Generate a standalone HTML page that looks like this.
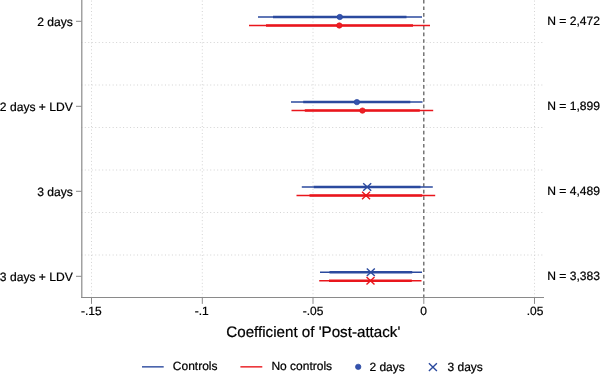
<!DOCTYPE html>
<html>
<head>
<meta charset="utf-8">
<title>Coefficient plot</title>
<style>
html,body{margin:0;padding:0;background:#fff;}
body{width:600px;height:375px;overflow:hidden;font-family:"Liberation Sans",sans-serif;}
svg{display:block;will-change:transform;}
text{font-family:"Liberation Sans",sans-serif;fill:#000;stroke:#000;stroke-width:0.22px;text-rendering:geometricPrecision;}
.t12{font-size:12px;}
.t15{font-size:15.16px;}
.grid{stroke:#d3d3d3;stroke-width:1;stroke-dasharray:1 2.485;fill:none;}
.axis{stroke:#8a8a8a;stroke-width:1.2;fill:none;}
.tick{stroke:#8a8a8a;stroke-width:1;fill:none;}
.b{stroke:#2b4a9e;fill:none;}
.r{stroke:#e9161c;fill:none;}
.thin{stroke-width:1.4;}
.thick{stroke-width:2.45;}
</style>
</head>
<body>
<svg width="600" height="375" viewBox="0 0 600 375">
<rect x="0" y="0" width="600" height="375" fill="#ffffff"/>

<!-- grid: horizontal -->
<g class="grid">
<line x1="81.3" y1="42.5" x2="543.5" y2="42.5"/>
<line x1="81.3" y1="85" x2="543.5" y2="85"/>
<line x1="81.3" y1="127.5" x2="543.5" y2="127.5"/>
<line x1="81.3" y1="170" x2="543.5" y2="170"/>
<line x1="81.3" y1="212.5" x2="543.5" y2="212.5"/>
<line x1="81.3" y1="255" x2="543.5" y2="255"/>
<!-- grid: vertical -->
<line x1="91.5" y1="-2.93" x2="91.5" y2="297"/>
<line x1="202.3" y1="-2.93" x2="202.3" y2="297"/>
<line x1="313" y1="-2.93" x2="313" y2="297"/>
<line x1="534.5" y1="-2.93" x2="534.5" y2="297"/>
</g>

<!-- zero reference line -->
<line x1="423.8" y1="0" x2="423.8" y2="297" stroke="#606060" stroke-width="1.3" stroke-dasharray="3.7 2.846" stroke-dashoffset="0.13"/>

<!-- axes -->
<line class="axis" x1="81.8" y1="0" x2="81.8" y2="298"/>
<line class="axis" style="stroke-width:1.1" x1="81.2" y1="297.45" x2="544" y2="297.45"/>

<!-- y ticks -->
<g class="tick">
<line x1="76" y1="21.3" x2="81.5" y2="21.3"/>
<line x1="76" y1="106.3" x2="81.5" y2="106.3"/>
<line x1="76" y1="191.3" x2="81.5" y2="191.3"/>
<line x1="76" y1="276.3" x2="81.5" y2="276.3"/>
<!-- x ticks -->
<line x1="91.5" y1="297.8" x2="91.5" y2="303.9"/>
<line x1="202.3" y1="297.8" x2="202.3" y2="303.9"/>
<line x1="313" y1="297.8" x2="313" y2="303.9"/>
<line x1="423.8" y1="297.8" x2="423.8" y2="303.9"/>
<line x1="534.5" y1="297.8" x2="534.5" y2="303.9"/>
</g>

<!-- y labels -->
<g class="t12" style="font-size:12.1px" text-anchor="end">
<text x="72.8" y="25.5">2 days</text>
<text x="72.8" y="110.5">2 days + LDV</text>
<text x="72.8" y="195.5">3 days</text>
<text x="72.8" y="280.5">3 days + LDV</text>
</g>

<!-- x labels -->
<g class="t12" text-anchor="middle">
<text x="91.3" y="315.15">-.15</text>
<text x="201.7" y="315.15">-.1</text>
<text x="313" y="315.15">-.05</text>
<text x="423.7" y="315.15">0</text>
<text x="535" y="315.15">.05</text>
</g>

<!-- axis title -->
<text class="t15" x="226.3" y="336.6">Coefficient of 'Post-attack'</text>

<!-- N labels -->
<g class="t12" style="font-size:12.1px">
<text x="547.2" y="25.1">N = 2,472</text>
<text x="547.2" y="110.1">N = 1,899</text>
<text x="547.2" y="195.1">N = 4,489</text>
<text x="547.2" y="280.1">N = 3,383</text>
</g>

<!-- Row 1: 2 days -->
<line class="b thin" x1="258" y1="17" x2="422" y2="17"/>
<line class="b thick" x1="273" y1="17" x2="406.5" y2="17"/>
<circle cx="339.8" cy="17" r="2.7" fill="#3452ae" stroke="#27469d" stroke-width="0.7"/>
<line class="r thin" x1="249" y1="25.5" x2="430" y2="25.5"/>
<line class="r thick" x1="266" y1="25.5" x2="413" y2="25.5"/>
<circle cx="339.3" cy="25.5" r="2.7" fill="#ec2026" stroke="#e51217" stroke-width="0.7"/>

<!-- Row 2: 2 days + LDV -->
<line class="b thin" x1="291" y1="102" x2="422.5" y2="102"/>
<line class="b thick" x1="303.2" y1="102" x2="410.3" y2="102"/>
<circle cx="356.9" cy="102.1" r="2.7" fill="#3452ae" stroke="#27469d" stroke-width="0.7"/>
<line class="r thin" x1="291.5" y1="110.5" x2="433.2" y2="110.5"/>
<line class="r thick" x1="304.8" y1="110.5" x2="419.8" y2="110.5"/>
<circle cx="362.45" cy="110.6" r="2.7" fill="#ec2026" stroke="#e51217" stroke-width="0.7"/>

<!-- Row 3: 3 days -->
<line class="b thin" x1="301.8" y1="187" x2="432.8" y2="187"/>
<line class="b thick" x1="313.8" y1="187" x2="420.5" y2="187"/>
<path class="b" stroke-width="1.4" d="M363.20 183.15 L371.20 190.75 M371.20 183.15 L363.20 190.75"/>
<line class="r thin" x1="296.5" y1="195.5" x2="435.2" y2="195.5"/>
<line class="r thick" x1="309.5" y1="195.5" x2="422.2" y2="195.5"/>
<path class="r" stroke-width="1.4" d="M362.05 191.75 L370.05 199.35 M370.05 191.75 L362.05 199.35"/>

<!-- Row 4: 3 days + LDV -->
<line class="b thin" x1="320" y1="272.2" x2="422" y2="272.2"/>
<line class="b thick" x1="329.5" y1="272.2" x2="412.2" y2="272.2"/>
<path class="b" stroke-width="1.4" d="M366.80 268.40 L374.80 276.00 M374.80 268.40 L366.80 276.00"/>
<line class="r thin" x1="319.2" y1="280.8" x2="421.5" y2="280.8"/>
<line class="r thick" x1="329" y1="280.8" x2="411.8" y2="280.8"/>
<path class="r" stroke-width="1.4" d="M366.50 277.00 L374.50 284.60 M374.50 277.00 L366.50 284.60"/>

<!-- Legend -->
<line class="b thin" x1="142" y1="366.85" x2="163.7" y2="366.85"/>
<text class="t12" x="172.8" y="370.35">Controls</text>
<line class="r thin" x1="240.4" y1="366.85" x2="262.3" y2="366.85"/>
<text class="t12" x="271.4" y="370.35">No controls</text>
<circle cx="358.2" cy="366.85" r="2.7" fill="#3452ae" stroke="#27469d" stroke-width="0.7"/>
<text class="t12" x="369.4" y="370.6">2 days</text>
<path class="b" stroke-width="1.4" d="M428.90 363.35 L436.90 370.95 M436.90 363.35 L428.90 370.95"/>
<text class="t12" x="447.5" y="370.6">3 days</text>
</svg>
</body>
</html>
